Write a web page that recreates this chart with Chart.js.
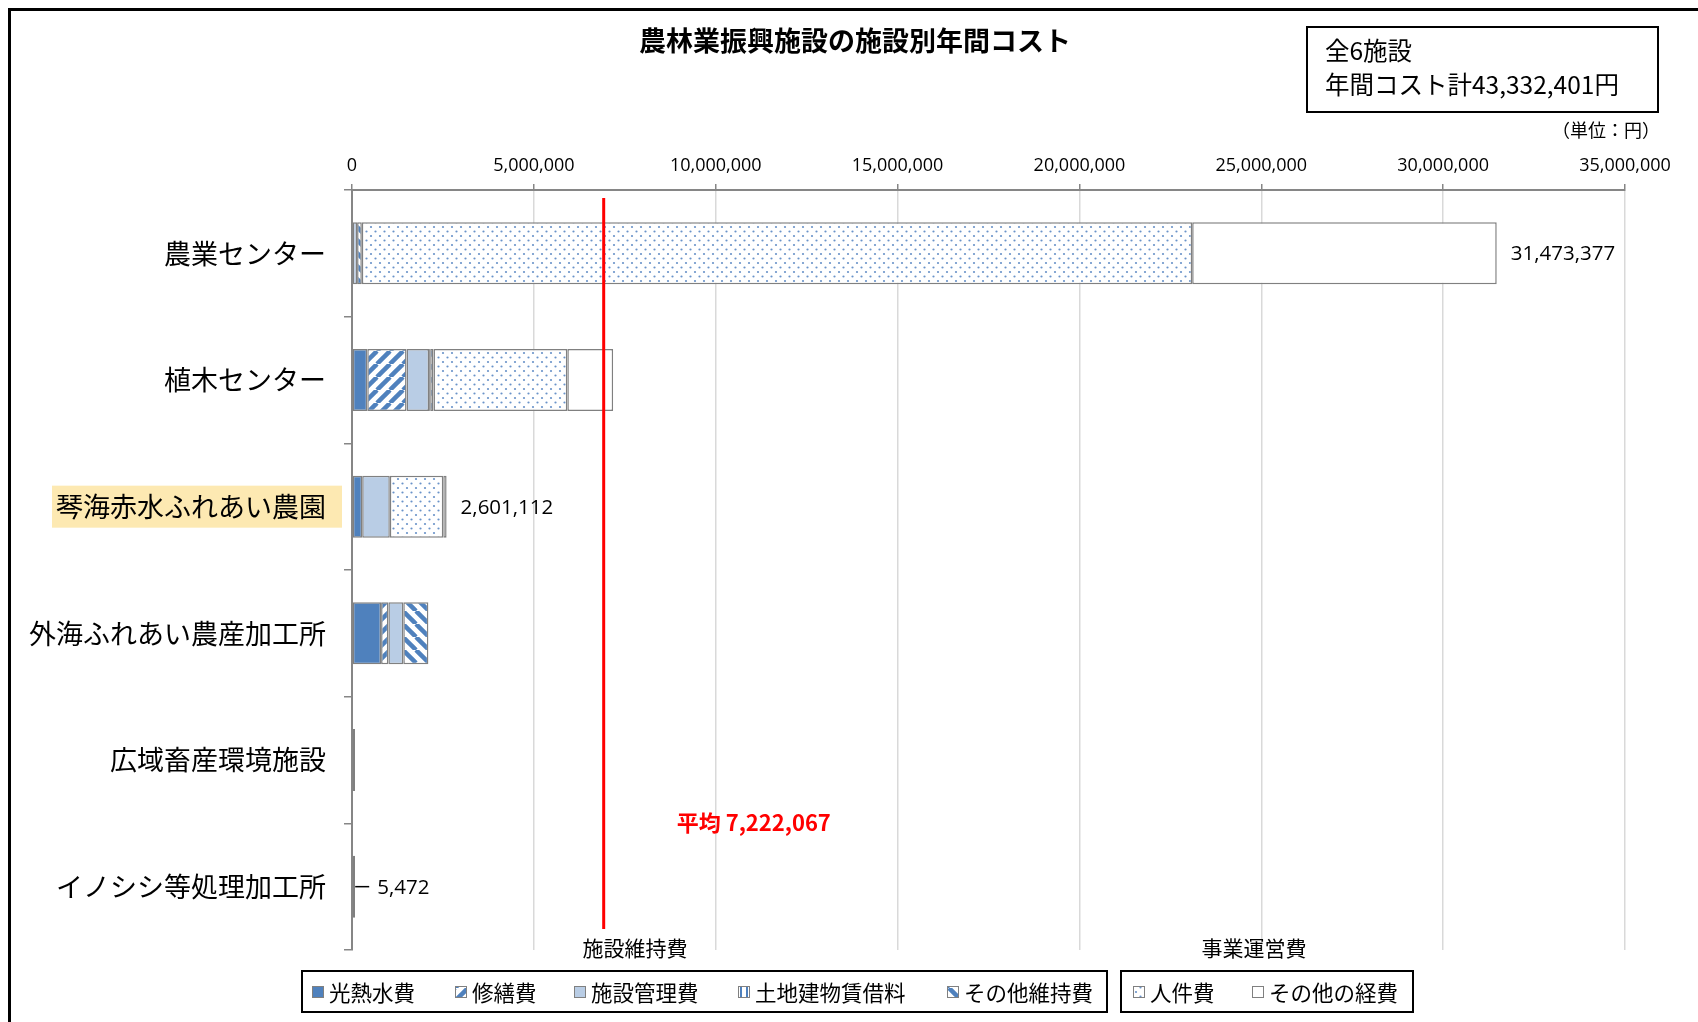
<!DOCTYPE html>
<html lang="ja">
<head>
<meta charset="utf-8">
<title>農林業振興施設の施設別年間コスト</title>
<script src="https://cdn.jsdelivr.net/npm/chart.js@4.4.1/dist/chart.umd.min.js"></script>
<style>
  html, body { margin: 0; padding: 0; background: #fff; }
  #wrap { width: 1698px; height: 1022px; position: relative; overflow: hidden; }
</style>
</head>
<body>
<div id="wrap"><canvas id="costChart" width="1698" height="1022"></canvas></div>
<script>
// 施設名（縦軸）
const facilities = ['農業センター', '植木センター', '琴海赤水ふれあい農園', '外海ふれあい農産加工所', '広域畜産環境施設', 'イノシシ等処理加工所'];
// 費目ごとの値（円）
const utilities     = [20000,    420000,  280000, 800000, 0,     0];
const repairs       = [0,        1080000, 0,      200000, 0,     0];
const facilityMgmt  = [120000,   620000,  760000, 410000, 0,     0];
const landRent      = [0,        30000,   0,      0,      0,     0];
const otherUpkeep   = [130000,   90000,   0,      690000, 0,     0];
const personnel     = [22830000, 3680000, 1470000, 0,     0,     0];
const otherExpenses = [8373377,  1260000, 91112,  null,   80000, 5472];
// 横軸の目盛
const xTicks = [0, 5000000, 10000000, 15000000, 20000000, 25000000, 30000000, 35000000];
// 合計ラベルを出す施設
const showTotal = [true, false, true, false, false, true];
const withLeader = [false, false, false, false, false, true];
const highlighted = '琴海赤水ふれあい農園';
// 平均
const averageCost = 7222067;
const averageLineAt = 6920000;
const facilityCount = 6;
const totalCost = 43332401;

const BLUE = '#4F81BD';
const LIGHT = '#B9CDE5';
const EDGE = '#808080';
const JP = "'Noto Sans CJK JP', sans-serif";
const NUM = "'Open Sans', 'Noto Sans CJK JP', sans-serif";
const fmt = v => v.toLocaleString('en-US');

// パターン塗り
const makePattern = (w, h, draw) => {
  const c = document.createElement('canvas');
  c.width = w; c.height = h;
  const g = c.getContext('2d');
  g.fillStyle = '#fff';
  g.fillRect(0, 0, w, h);
  draw(g);
  return c.getContext('2d').createPattern(c, 'repeat');
};
const stripeUp = makePattern(13, 13, g => {
  g.strokeStyle = BLUE; g.lineWidth = 4.5;
  [-13, 0, 13].forEach(k => { g.beginPath(); g.moveTo(k, 13); g.lineTo(k + 13, 0); g.stroke(); });
});
const stripeDown = makePattern(13, 13, g => {
  g.strokeStyle = BLUE; g.lineWidth = 4.5;
  [-13, 0, 13].forEach(k => { g.beginPath(); g.moveTo(k, 0); g.lineTo(k + 13, 13); g.stroke(); });
});
const vertical = makePattern(6, 6, g => {
  g.fillStyle = BLUE; g.fillRect(2, 0, 2, 6);
});
const dots = makePattern(9, 9, g => {
  g.fillStyle = '#6A93C9';
  [[2, 2], [6.5, 6.5]].forEach(([x, y]) => { g.beginPath(); g.arc(x, y, 1.1, 0, Math.PI * 2); g.fill(); });
});

const seriesDefs = [
  { label: '光熱水費',       data: utilities,     fill: BLUE },
  { label: '修繕費',         data: repairs,       fill: stripeUp },
  { label: '施設管理費',     data: facilityMgmt,  fill: LIGHT },
  { label: '土地建物賃借料', data: landRent,      fill: vertical },
  { label: 'その他維持費',   data: otherUpkeep,   fill: stripeDown },
  { label: '人件費',         data: personnel,     fill: dots },
  { label: 'その他の経費',   data: otherExpenses, fill: '#fff' }
];

// 凡例の配置
const legendGroups = [
  { title: '施設維持費', titleX: 635, box: [302, 971, 805, 41], items: [0, 1, 2, 3, 4], xs: [312, 455, 574, 738, 947] },
  { title: '事業運営費', titleX: 1254, box: [1121, 971, 292, 41], items: [5, 6], xs: [1133, 1252] }
];

const decorations = {
  id: 'decorations',
  beforeDraw(chart) {
    const { ctx } = chart;
    ctx.save();
    ctx.fillStyle = '#fff';
    ctx.fillRect(0, 0, chart.width, chart.height);
    // 強調された施設名の背景
    const yScale = chart.scales.y;
    const idx = facilities.indexOf(highlighted);
    const cy = yScale.getPixelForValue(idx);
    ctx.fillStyle = '#FDE9B2';
    ctx.fillRect(52, cy - 21, 290, 42);
    ctx.restore();
  },
  afterDatasetsDraw(chart) {
    const { ctx, scales: { x, y } } = chart;
    ctx.save();
    // 合計ラベル
    ctx.font = '20.5px ' + NUM;
    ctx.fillStyle = '#000';
    ctx.textBaseline = 'middle';
    ctx.textAlign = 'left';
    facilities.forEach((f, i) => {
      if (!showTotal[i]) return;
      const sum = seriesDefs.reduce((a, s) => a + (s.data[i] || 0), 0);
      const px = x.getPixelForValue(sum);
      const py = y.getPixelForValue(i);
      if (withLeader[i]) {
        ctx.strokeStyle = '#000'; ctx.lineWidth = 1.5;
        ctx.beginPath(); ctx.moveTo(px + 3, py); ctx.lineTo(px + 17, py); ctx.stroke();
        ctx.fillText(fmt(sum), px + 25, py + 1);
      } else {
        ctx.fillText(fmt(sum), px + 14, py + 1);
      }
    });
    // 平均線
    const ax = x.getPixelForValue(averageLineAt);
    ctx.strokeStyle = '#FF0000';
    ctx.lineWidth = 3;
    ctx.beginPath(); ctx.moveTo(ax, 198); ctx.lineTo(ax, 929); ctx.stroke();
    ctx.fillStyle = '#FF0000';
    ctx.font = 'bold 22px ' + JP;
    ctx.fillText('平均 ' + fmt(averageCost), ax + 73, 823);
    ctx.restore();
  },
  afterDraw(chart) {
    const { ctx } = chart;
    ctx.save();
    // 外枠
    ctx.strokeStyle = '#000';
    ctx.lineWidth = 3;
    ctx.strokeRect(9.5, 9.5, 2000, 2000);
    // タイトル
    ctx.fillStyle = '#000';
    ctx.textBaseline = 'middle';
    ctx.textAlign = 'center';
    ctx.font = 'bold 27px ' + JP;
    ctx.fillText('農林業振興施設の施設別年間コスト', 855, 41);
    // 合計ボックス
    ctx.lineWidth = 2;
    ctx.strokeRect(1307, 27, 351, 85);
    ctx.textAlign = 'left';
    ctx.font = '24.5px ' + JP;
    ctx.fillText('全' + facilityCount + '施設', 1325, 51);
    ctx.fillText('年間コスト計' + fmt(totalCost) + '円', 1325, 85);
    ctx.textAlign = 'right';
    ctx.font = '18px ' + JP;
    ctx.fillText('（単位：円）', 1660, 130);
    // 凡例
    legendGroups.forEach(gr => {
      ctx.textAlign = 'center';
      ctx.font = '21px ' + JP;
      ctx.fillStyle = '#000';
      ctx.fillText(gr.title, gr.titleX, 948);
      ctx.strokeStyle = '#000';
      ctx.lineWidth = 2;
      ctx.strokeRect(gr.box[0], gr.box[1], gr.box[2], gr.box[3]);
      ctx.textAlign = 'left';
      gr.items.forEach((si, k) => {
        const mx = gr.xs[k], my = 986;
        ctx.fillStyle = seriesDefs[si].fill;
        ctx.fillRect(mx, my, 12, 12);
        ctx.strokeStyle = EDGE; ctx.lineWidth = 1;
        ctx.strokeRect(mx + 0.5, my + 0.5, 11, 11);
        ctx.fillStyle = '#000';
        ctx.font = '21.5px ' + JP;
        ctx.fillText(seriesDefs[si].label, mx + 17, 993);
      });
    });
    ctx.restore();
  }
};

new Chart(document.getElementById('costChart'), {
  type: 'bar',
  data: {
    labels: facilities,
    datasets: seriesDefs.map((s, i) => ({
      label: s.label,
      data: s.data,
      backgroundColor: s.fill,
      borderColor: EDGE,
      borderWidth: 1.5,
      borderSkipped: false,
      barPercentage: 0.49,
      categoryPercentage: 1,
      minBarLength: i === seriesDefs.length - 1 ? 3 : undefined
    }))
  },
  options: {
    indexAxis: 'y',
    responsive: false,
    devicePixelRatio: 1,
    animation: false,
    layout: { padding: { left: 0, right: 73, top: 0, bottom: 72 } },
    plugins: { legend: { display: false }, title: { display: false }, tooltip: { enabled: false } },
    scales: {
      x: {
        type: 'linear',
        position: 'top',
        stacked: true,
        min: xTicks[0],
        max: xTicks[xTicks.length - 1],
        afterBuildTicks: s => { s.ticks = xTicks.map(v => ({ value: v })); },
        ticks: { color: '#000', padding: 7, maxRotation: 0, font: { family: NUM, size: 18 }, callback: v => fmt(v) },
        grid: { color: '#D9D9D9', lineWidth: 1.5, tickColor: '#868686', tickLength: 6 },
        border: { color: '#868686', width: 2 },
        afterFit: s => { s.height = 190; }
      },
      y: {
        type: 'category',
        position: 'left',
        stacked: true,
        ticks: { color: '#000', padding: 18, font: { family: JP, size: 27 } },
        grid: { drawOnChartArea: false, offset: true, color: '#868686', lineWidth: 1.5, tickLength: 8 },
        border: { color: '#868686', width: 2 },
        afterFit: s => { s.width = 352; }
      }
    }
  },
  plugins: [decorations]
});
</script>
</body>
</html>
